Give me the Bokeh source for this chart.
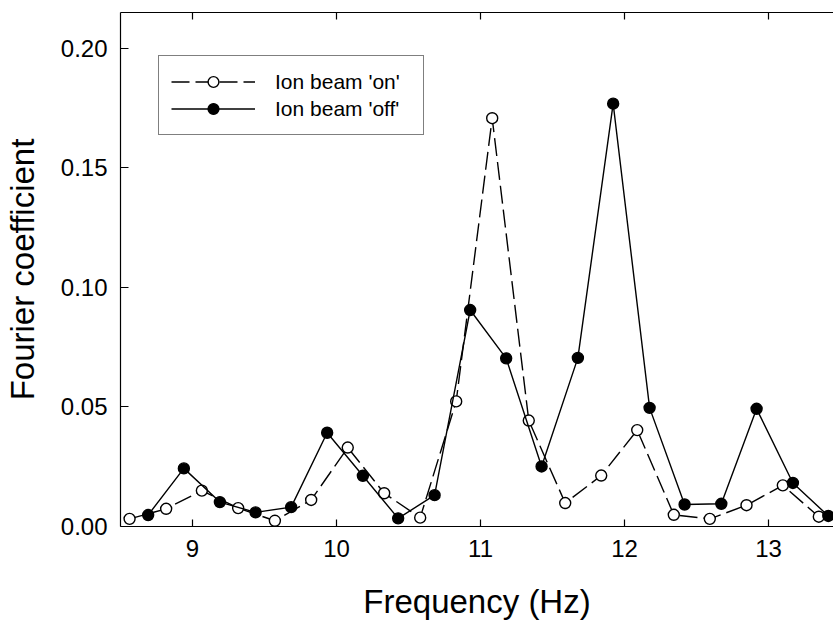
from bokeh.plotting import figure
from bokeh.models import (LinearAxis, FixedTicker, PrintfTickFormatter, Range1d,
                          Legend, LegendItem)
from bokeh.embed import file_html
from bokeh.resources import INLINE

# Data
freq_on = [8.563, 8.817, 9.065, 9.317, 9.572, 9.824, 10.078, 10.331, 10.581, 10.831,
           11.081, 11.335, 11.588, 11.838, 12.088, 12.342, 12.592, 12.847, 13.099, 13.349]
coef_on = [0.0032, 0.0074, 0.0150, 0.0077, 0.0024, 0.0111, 0.0330, 0.0139, 0.0037, 0.0523,
           0.1707, 0.0443, 0.0098, 0.0213, 0.0403, 0.0049, 0.0032, 0.0089, 0.0172, 0.0041]
freq_off = [8.692, 8.940, 9.190, 9.438, 9.685, 9.935, 10.183, 10.428, 10.681, 10.928,
            11.178, 11.424, 11.676, 11.921, 12.174, 12.417, 12.672, 12.917, 13.169, 13.415]
coef_off = [0.0048, 0.0243, 0.0102, 0.0059, 0.0081, 0.0392, 0.0212, 0.0034, 0.0131, 0.0905,
            0.0703, 0.0251, 0.0705, 0.1768, 0.0496, 0.0092, 0.0095, 0.0492, 0.0182, 0.0044]
x_ticks = [9, 10, 11, 12, 13]
y_ticks = [0.0, 0.05, 0.10, 0.15, 0.20]
label_on = "Ion beam 'on'"
label_off = "Ion beam 'off'"

FONT = "Liberation Sans"

p = figure(width=833, height=622, output_backend="svg", toolbar_location=None,
           x_range=Range1d(8.5, 13.451), y_range=Range1d(0, 0.2149),
           min_border_left=120, min_border_right=0, min_border_top=12, min_border_bottom=91,
           background_fill_color="white", border_fill_color="white")
p.outline_line_color = None
p.grid.visible = False

# axes
for ax in [p.xaxis[0], p.yaxis[0]]:
    ax.major_tick_in = 7
    ax.major_tick_out = 0
    ax.minor_tick_line_color = None
    ax.axis_line_color = "black"
    ax.axis_line_width = 1.2
    ax.major_tick_line_color = "black"
    ax.major_tick_line_width = 1.2
    ax.major_label_text_font = FONT
    ax.major_label_text_font_size = "24px"
    ax.major_label_text_color = "black"
    ax.axis_label_text_font = FONT
    ax.axis_label_text_font_size = "33px"
    ax.axis_label_text_font_style = "normal"
    ax.axis_label_text_color = "black"

p.xaxis.ticker = FixedTicker(ticks=x_ticks)
p.yaxis.ticker = FixedTicker(ticks=y_ticks)
p.yaxis.formatter = PrintfTickFormatter(format="%.2f")
p.xaxis.axis_label = "Frequency (Hz)"
p.yaxis.axis_label = "Fourier coefficient"
p.yaxis.major_tick_in = 8
p.yaxis.major_label_standoff = 13
p.xaxis.major_label_standoff = 13
p.yaxis.axis_label_standoff = 17
p.xaxis.axis_label_standoff = 23

top = LinearAxis(ticker=FixedTicker(ticks=x_ticks), major_tick_in=7, major_tick_out=0,
                 major_label_overrides={t: "" for t in x_ticks},
                 major_label_text_font_size="1px", major_label_standoff=0,
                 minor_tick_line_color=None, axis_line_color="black", axis_line_width=1.2,
                 major_tick_line_color="black", major_tick_line_width=1.2)
p.add_layout(top, "above")

# series
l_on = p.line(freq_on, coef_on, line_color="black", line_width=1.4, line_dash="18 6")
s_on = p.scatter(freq_on, coef_on, size=11, marker="circle", fill_color="white",
                 line_color="black", line_width=1.4)
l_off = p.line(freq_off, coef_off, line_color="black", line_width=1.4)
s_off = p.scatter(freq_off, coef_off, size=11, marker="circle", fill_color="black",
                  line_color="black", line_width=1.4)

legend = Legend(items=[LegendItem(label=label_on, renderers=[l_on, s_on]),
                       LegendItem(label=label_off, renderers=[l_off, s_off])],
                location=(38, 391), padding=12, spacing=0, margin=0,
                glyph_width=84, glyph_height=27, label_height=27, label_width=136,
                label_standoff=20, label_text_font=FONT, label_text_font_size="21px",
                label_text_color="black", border_line_color="black", border_line_width=1.2,
                background_fill_color="white", background_fill_alpha=1.0)
p.add_layout(legend, "center")

open("out.html", "w").write(file_html(p, INLINE))
